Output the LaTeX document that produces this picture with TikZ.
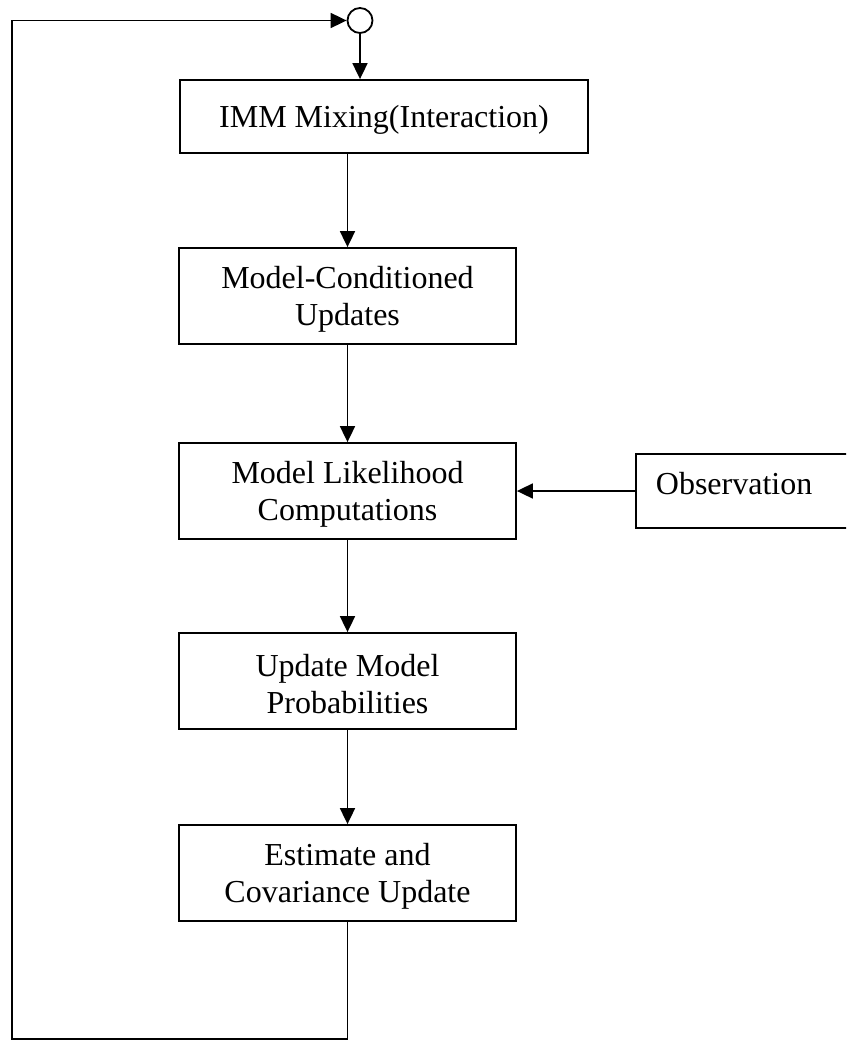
\documentclass[tikz,border=0pt]{standalone}
\usepackage{fontspec}
\setmainfont{Liberation Serif}
\usetikzlibrary{arrows.meta}
\newcommand{\upstrut}{\rule{0pt}{28pt}}
\begin{document}
\begin{tikzpicture}[x=1pt,y=-1pt,
  box/.style={draw,line width=1.8pt,rectangle,inner sep=0pt,align=center,
    font=\fontsize{32}{37}\selectfont},
  arr/.style={line width=1.8pt,-{Triangle[length=16pt,width=15pt]}},
  ln/.style={line width=1.8pt}]
\useasboundingbox (0,0) rectangle (846,1041);
\clip (0,0) rectangle (846,1041);
\node[draw,circle,line width=1.8pt,minimum size=25pt,inner sep=0pt] (c) at (360,20.5) {};
\node[box,minimum width=408pt,minimum height=73pt,text height=22pt,text depth=0pt] (b1) at (384,116.5) {IMM Mixing(Interaction)};
\node[box,minimum width=337pt,minimum height=96pt] (b2) at (347.5,296) {\upstrut Model-Conditioned\\Updates};
\node[box,minimum width=337pt,minimum height=96pt] (b3) at (347.5,491) {\upstrut Model Likelihood\\Computations};
\node[box,minimum width=337pt,minimum height=96pt] (b4) at (347.5,681) {\upstrut Update Model\\Probabilities};
\node[box,minimum width=337pt,minimum height=96pt] (b5) at (347.5,873) {\upstrut Estimate and\\Covariance Update};
\node[box,anchor=west,minimum height=74pt,inner xsep=20pt,text width=200pt,align=left,
  text height=22pt,text depth=16pt] (obs) at (635,491) {Observation};
\coordinate (lb) at (12,1039);
\coordinate (lt) at (12,20.5);
\draw[arr] (c.south) -- (c.south |- b1.north);
\draw[arr] (b2.north |- b1.south) -- (b2.north);
\draw[arr] (b2.south) -- (b3.north);
\draw[arr] (b3.south) -- (b4.north);
\draw[arr] (b4.south) -- (b5.north);
\draw[arr] (obs.west) -- (b3.east);
\draw[arr] (b5.south) |- (lb) -- (lt) -- (c.west);
\end{tikzpicture}
\end{document}
